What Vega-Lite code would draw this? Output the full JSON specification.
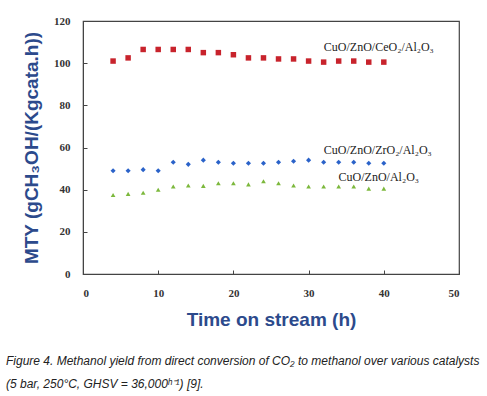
{
  "$schema": "https://vega.github.io/schema/vega-lite/v6.json",
  "width": 376,
  "height": 253,
  "autosize": "none",
  "padding": {"left": 83, "top": 21, "right": 28, "bottom": 122},
  "background": "white",
  "title": {
    "text": ["Figure 4. Methanol yield from direct conversion of CO₂ to methanol over various catalysts", "(5 bar, 250°C, GHSV = 36,000ʰ⁻¹) [9]."],
    "orient": "bottom",
    "anchor": "start",
    "frame": "group",
    "dx": -77,
    "offset": 27,
    "font": "Liberation Sans",
    "fontStyle": "italic",
    "fontWeight": "normal",
    "fontSize": 12,
    "lineHeight": 23,
    "color": "#222222"
  },
  "config": {
    "view": {"stroke": "#444444", "strokeWidth": 1.2},
    "axis": {
      "grid": false,
      "domainColor": "#444444",
      "tickColor": "#444444",
      "labelFont": "Liberation Serif",
      "labelFontWeight": "bold",
      "labelFontSize": 11,
      "labelColor": "#333333",
      "titleFont": "Liberation Sans",
      "titleFontWeight": "bold",
      "titleFontSize": 19,
      "titleColor": "#2c4a8c"
    }
  },
  "data": {
    "values": [
      {"t": 4, "mty": 101, "catalyst": "CuO/ZnO/CeO₂/Al₂O₃"},
      {"t": 6, "mty": 102.5, "catalyst": "CuO/ZnO/CeO₂/Al₂O₃"},
      {"t": 8, "mty": 106.5, "catalyst": "CuO/ZnO/CeO₂/Al₂O₃"},
      {"t": 10, "mty": 106.5, "catalyst": "CuO/ZnO/CeO₂/Al₂O₃"},
      {"t": 12, "mty": 106.5, "catalyst": "CuO/ZnO/CeO₂/Al₂O₃"},
      {"t": 14, "mty": 106.5, "catalyst": "CuO/ZnO/CeO₂/Al₂O₃"},
      {"t": 16, "mty": 105, "catalyst": "CuO/ZnO/CeO₂/Al₂O₃"},
      {"t": 18, "mty": 105, "catalyst": "CuO/ZnO/CeO₂/Al₂O₃"},
      {"t": 20, "mty": 104, "catalyst": "CuO/ZnO/CeO₂/Al₂O₃"},
      {"t": 22, "mty": 102.5, "catalyst": "CuO/ZnO/CeO₂/Al₂O₃"},
      {"t": 24, "mty": 102.5, "catalyst": "CuO/ZnO/CeO₂/Al₂O₃"},
      {"t": 26, "mty": 102, "catalyst": "CuO/ZnO/CeO₂/Al₂O₃"},
      {"t": 28, "mty": 102, "catalyst": "CuO/ZnO/CeO₂/Al₂O₃"},
      {"t": 30, "mty": 101, "catalyst": "CuO/ZnO/CeO₂/Al₂O₃"},
      {"t": 32, "mty": 100.5, "catalyst": "CuO/ZnO/CeO₂/Al₂O₃"},
      {"t": 34, "mty": 101, "catalyst": "CuO/ZnO/CeO₂/Al₂O₃"},
      {"t": 36, "mty": 101, "catalyst": "CuO/ZnO/CeO₂/Al₂O₃"},
      {"t": 38, "mty": 100.5, "catalyst": "CuO/ZnO/CeO₂/Al₂O₃"},
      {"t": 40, "mty": 100.5, "catalyst": "CuO/ZnO/CeO₂/Al₂O₃"},
      {"t": 4, "mty": 49, "catalyst": "CuO/ZnO/ZrO₂/Al₂O₃"},
      {"t": 6, "mty": 49, "catalyst": "CuO/ZnO/ZrO₂/Al₂O₃"},
      {"t": 8, "mty": 49.5, "catalyst": "CuO/ZnO/ZrO₂/Al₂O₃"},
      {"t": 10, "mty": 49, "catalyst": "CuO/ZnO/ZrO₂/Al₂O₃"},
      {"t": 12, "mty": 53, "catalyst": "CuO/ZnO/ZrO₂/Al₂O₃"},
      {"t": 14, "mty": 52, "catalyst": "CuO/ZnO/ZrO₂/Al₂O₃"},
      {"t": 16, "mty": 54, "catalyst": "CuO/ZnO/ZrO₂/Al₂O₃"},
      {"t": 18, "mty": 53, "catalyst": "CuO/ZnO/ZrO₂/Al₂O₃"},
      {"t": 20, "mty": 52.5, "catalyst": "CuO/ZnO/ZrO₂/Al₂O₃"},
      {"t": 22, "mty": 52.5, "catalyst": "CuO/ZnO/ZrO₂/Al₂O₃"},
      {"t": 24, "mty": 52.5, "catalyst": "CuO/ZnO/ZrO₂/Al₂O₃"},
      {"t": 26, "mty": 53, "catalyst": "CuO/ZnO/ZrO₂/Al₂O₃"},
      {"t": 28, "mty": 53.5, "catalyst": "CuO/ZnO/ZrO₂/Al₂O₃"},
      {"t": 30, "mty": 54, "catalyst": "CuO/ZnO/ZrO₂/Al₂O₃"},
      {"t": 32, "mty": 53, "catalyst": "CuO/ZnO/ZrO₂/Al₂O₃"},
      {"t": 34, "mty": 53, "catalyst": "CuO/ZnO/ZrO₂/Al₂O₃"},
      {"t": 36, "mty": 53, "catalyst": "CuO/ZnO/ZrO₂/Al₂O₃"},
      {"t": 38, "mty": 52.5, "catalyst": "CuO/ZnO/ZrO₂/Al₂O₃"},
      {"t": 40, "mty": 52.5, "catalyst": "CuO/ZnO/ZrO₂/Al₂O₃"},
      {"t": 4, "mty": 37.5, "catalyst": "CuO/ZnO/Al₂O₃"},
      {"t": 6, "mty": 38, "catalyst": "CuO/ZnO/Al₂O₃"},
      {"t": 8, "mty": 38.5, "catalyst": "CuO/ZnO/Al₂O₃"},
      {"t": 10, "mty": 40, "catalyst": "CuO/ZnO/Al₂O₃"},
      {"t": 12, "mty": 41.5, "catalyst": "CuO/ZnO/Al₂O₃"},
      {"t": 14, "mty": 42, "catalyst": "CuO/ZnO/Al₂O₃"},
      {"t": 16, "mty": 41.8, "catalyst": "CuO/ZnO/Al₂O₃"},
      {"t": 18, "mty": 43, "catalyst": "CuO/ZnO/Al₂O₃"},
      {"t": 20, "mty": 43, "catalyst": "CuO/ZnO/Al₂O₃"},
      {"t": 22, "mty": 42.5, "catalyst": "CuO/ZnO/Al₂O₃"},
      {"t": 24, "mty": 44, "catalyst": "CuO/ZnO/Al₂O₃"},
      {"t": 26, "mty": 43, "catalyst": "CuO/ZnO/Al₂O₃"},
      {"t": 28, "mty": 42, "catalyst": "CuO/ZnO/Al₂O₃"},
      {"t": 30, "mty": 41.5, "catalyst": "CuO/ZnO/Al₂O₃"},
      {"t": 32, "mty": 41.5, "catalyst": "CuO/ZnO/Al₂O₃"},
      {"t": 34, "mty": 41.5, "catalyst": "CuO/ZnO/Al₂O₃"},
      {"t": 36, "mty": 41.5, "catalyst": "CuO/ZnO/Al₂O₃"},
      {"t": 38, "mty": 40.5, "catalyst": "CuO/ZnO/Al₂O₃"},
      {"t": 40, "mty": 40.5, "catalyst": "CuO/ZnO/Al₂O₃"}
    ]
  },
  "encoding": {
    "x": {
      "field": "t", "type": "quantitative",
      "scale": {"domain": [0, 50], "nice": false},
      "axis": {"values": [0, 10, 20, 30, 40, 50], "tickSize": -4, "labelPadding": 17, "title": "Time on stream (h)", "titlePadding": 12}
    },
    "y": {
      "field": "mty", "type": "quantitative",
      "scale": {"domain": [0, 120], "nice": false},
      "axis": {"values": [0, 20, 40, 60, 80, 100, 120], "tickSize": -4, "labelPadding": 17, "title": "MTY (gCH₃OH/(Kgcata.h))", "titlePadding": 12}
    }
  },
  "layer": [
    {
      "mark": {"type": "point", "filled": true, "opacity": 1},
      "encoding": {
        "color": {"field": "catalyst", "type": "nominal", "legend": null,
          "scale": {"domain": ["CuO/ZnO/CeO₂/Al₂O₃", "CuO/ZnO/ZrO₂/Al₂O₃", "CuO/ZnO/Al₂O₃"], "range": ["#c8232c", "#2a62c9", "#7cb83c"]}},
        "shape": {"field": "catalyst", "type": "nominal", "legend": null,
          "scale": {"domain": ["CuO/ZnO/CeO₂/Al₂O₃", "CuO/ZnO/ZrO₂/Al₂O₃", "CuO/ZnO/Al₂O₃"], "range": ["square", "diamond", "triangle-up"]}},
        "size": {"field": "catalyst", "type": "nominal", "legend": null,
          "scale": {"domain": ["CuO/ZnO/CeO₂/Al₂O₃", "CuO/ZnO/ZrO₂/Al₂O₃", "CuO/ZnO/Al₂O₃"], "range": [30, 22, 26]}}
      }
    },
    {
      "transform": [{"filter": "datum.t == 40 && datum.catalyst == 'CuO/ZnO/CeO₂/Al₂O₃'"}],
      "mark": {"type": "text", "font": "Liberation Serif", "fontSize": 12, "color": "#222222", "align": "center", "baseline": "middle", "dx": -5, "dy": -15},
      "encoding": {"text": {"field": "catalyst"}}
    },
    {
      "transform": [{"filter": "datum.t == 40 && datum.catalyst == 'CuO/ZnO/ZrO₂/Al₂O₃'"}],
      "mark": {"type": "text", "font": "Liberation Serif", "fontSize": 12, "color": "#222222", "align": "center", "baseline": "middle", "dx": -6, "dy": -13},
      "encoding": {"text": {"field": "catalyst"}}
    },
    {
      "transform": [{"filter": "datum.t == 40 && datum.catalyst == 'CuO/ZnO/Al₂O₃'"}],
      "mark": {"type": "text", "font": "Liberation Serif", "fontSize": 12, "color": "#222222", "align": "center", "baseline": "middle", "dx": -5, "dy": -12},
      "encoding": {"text": {"field": "catalyst"}}
    }
  ]
}
